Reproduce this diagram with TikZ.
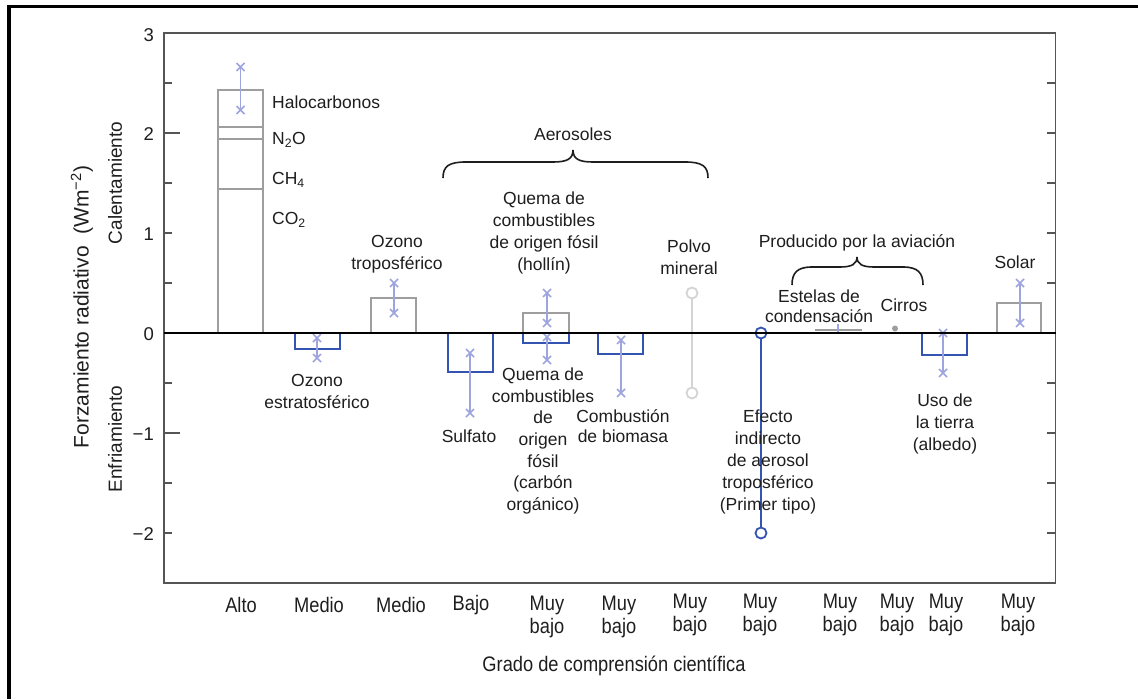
\documentclass[tikz,border=0pt]{standalone}
\usepackage{fontspec}
\setmainfont{Liberation Sans}
\newfontfamily\narrowfont[FakeStretch=0.87]{Liberation Sans}
\definecolor{bargray}{RGB}{158,158,158}
\definecolor{barblue}{RGB}{52,84,178}
\definecolor{errblue}{RGB}{158,164,222}
\definecolor{dustgray}{RGB}{212,212,212}
\definecolor{framegray}{RGB}{85,85,85}
\definecolor{txt}{RGB}{30,30,30}
\newcommand\errmark[3]{%
  \draw[err] (#1,#2) -- (#1,#3);
  \draw[err] (#1,#2) +(-4pt,-4pt) -- +(4pt,4pt) +(-4pt,4pt) -- +(4pt,-4pt);
  \draw[err] (#1,#3) +(-4pt,-4pt) -- +(4pt,4pt) +(-4pt,4pt) -- +(4pt,-4pt);}
\begin{document}
\begin{tikzpicture}[x=1pt,y=-1pt,
  frame/.style={draw=framegray,line width=1.5pt},
  graybar/.style={draw=bargray,line width=2pt},
  bluebar/.style={draw=barblue,line width=2.4pt},
  err/.style={draw=errblue,line width=1.6pt},
  lab/.style={text=txt,font=\fontsize{17.5}{22}\selectfont,align=center,inner sep=0pt},
  ticklab/.style={text=txt,font=\fontsize{18.5}{22}\selectfont,anchor=east,inner sep=0pt},
  axlab/.style={text=txt,font=\fontsize{19}{22}\selectfont,inner sep=0pt,rotate=90},
  botlab/.style={text=txt,font=\narrowfont\fontsize{21}{23}\selectfont,align=center,inner sep=0pt},
  endcirc/.style={circle,inner sep=0pt,minimum size=11pt,line width=1.8pt}]
\useasboundingbox (0,0) rectangle (1138,699);
\fill[white] (0,0) rectangle (1138,699);
% outer frame
\draw[line width=3pt] (7,6.3) -- (1138,6.3);
\draw[line width=3.5pt] (8.8,4.8) -- (8.8,699);
% plot frame
\draw[frame] (164,33) rectangle (1055.7,583);
\foreach \v in {2.5,1.5,1,0.5,-0.5,-1.5,-2} \draw[frame] (164,{333-100*\v}) -- ++(8,0);
\foreach \v in {2,-1} \draw[frame] (164,{333-100*\v}) -- ++(16,0);
\foreach \v in {2.5,2,1.5,1,0.5,-0.5,-1,-1.5,-2} \draw[frame] (1055.7,{333-100*\v}) -- ++(-9,0);
% tick labels
\node[ticklab] (t3) at (154,35) {3};
\node[ticklab] (t2) at (154,134) {2};
\node[ticklab] (t1) at (154,234) {1};
\node[ticklab] (t0) at (154,334) {0};
\node[ticklab] (tm1) at (154,434) {−1};
\node[ticklab] (tm2) at (154,534) {−2};
% axis titles
\node[axlab,font=\fontsize{21}{24}\selectfont] (ytitle) at (82,307) {Forzamiento radiativo\ \ (Wm\textsuperscript{−2})};
\node[axlab] (warm) at (115,183) {Calentamiento};
\node[axlab] (cool) at (115,439) {Enfriamiento};
% data
\begin{scope}[yshift=-333pt,y=100pt]
  % 1 greenhouse gases
  \draw[graybar] (218,0) rectangle (263,2.43);
  \draw[graybar] (218,2.06) -- (263,2.06);
  \draw[graybar] (218,1.94) -- (263,1.94);
  \draw[graybar] (218,1.44) -- (263,1.44);
  \errmark{240.5}{2.23}{2.66}
  % 2 strat ozone
  \draw[bluebar] (295,0) rectangle (340,-0.16);
  \errmark{317}{-0.05}{-0.25}
  % 3 trop ozone
  \draw[graybar] (371,0) rectangle (416,0.35);
  \errmark{394}{0.2}{0.5}
  % 4 sulfate
  \draw[bluebar] (448,0) rectangle (493,-0.39);
  \errmark{470}{-0.2}{-0.8}
  % 5 fossil fuel
  \draw[graybar] (523,0) rectangle (569,0.2);
  \draw[bluebar] (523,0) rectangle (569,-0.1);
  \errmark{547}{0.1}{0.4}
  \errmark{547}{-0.04}{-0.27}
  % 6 biomass
  \draw[bluebar] (598,0) rectangle (643,-0.21);
  \errmark{621}{-0.07}{-0.6}
  % 7 dust
  \node[endcirc,draw=dustgray] (d1) at (692,0.4) {};
  \node[endcirc,draw=dustgray] (d2) at (692,-0.6) {};
  \draw[draw=dustgray,line width=1.8pt] (d1) -- (d2);
  % 8 indirect aerosol
  \node[endcirc,draw=barblue] (i1) at (761,0) {};
  \node[endcirc,draw=barblue] (i2) at (761,-2) {};
  \draw[draw=barblue,line width=2pt] (i1) -- (i2);
  % 9 contrails
  \draw[graybar,line width=2.5pt] (815,0.03) -- (862,0.03);
  \draw[err] (838,0) -- (838,0.09);
  % 10 cirrus
  \fill[bargray] (895,0.045) circle (3pt);
  % 11 land use
  \draw[bluebar] (922,0) rectangle (967,-0.22);
  \errmark{943}{0}{-0.4}
  % 12 solar
  \draw[graybar] (997,0) rectangle (1041,0.3);
  \errmark{1020}{0.1}{0.5}
\end{scope}
% zero line
\draw[line width=2.5pt] (164,333) -- (1055.7,333);
% braces
\draw[line width=1.6pt,txt] (443,178) .. controls (443,166) and (449,162) .. (466,162) -- (553,162)
  .. controls (567,162) and (573,159) .. (573,150) .. controls (573,159) and (579,162) .. (593,162)
  -- (685,162) .. controls (702,162) and (708,166) .. (708,178);
\draw[line width=1.6pt,txt] (792,285) .. controls (792,273) and (797,267) .. (812,267) -- (840,267)
  .. controls (852,267) and (857,264) .. (857,257) .. controls (857,264) and (862,267) .. (874,267)
  -- (903,267) .. controls (918,267) and (923,273) .. (923,285);
% labels
\node[lab,anchor=west] (halo) at (272,102) {Halocarbonos};
\node[lab,anchor=west] (n2o) at (272,140) {N\textsubscript{2}O};
\node[lab,anchor=west] (ch4) at (272,180) {CH\textsubscript{4}};
\node[lab,anchor=west] (co2) at (272,220) {CO\textsubscript{2}};
\node[lab] (otrop) at (397,254) {Ozono\\troposférico};
\node[lab] (ostrat) at (317,391) {Ozono\\estratosférico};
\node[lab] (aer) at (573,134) {Aerosoles};
\node[lab] (soot) at (544,233) {Quema de\\combustibles\\de origen fósil\\(hollín)};
\node[lab] (dust) at (689,257) {Polvo\\mineral};
\node[lab] (avia) at (857,243) {Producido por la aviación};
\node[lab,font=\fontsize{17.5}{19.5}\selectfont] (contr) at (819,306) {Estelas de\\condensación};
\node[lab] (cirr) at (904,305) {Cirros};
\node[lab] (solar) at (1015,262) {Solar};
\node[lab] (sulf) at (469,436) {Sulfato};
\node[lab,font=\fontsize{17.5}{21.6}\selectfont] (oc) at (543,441) {Quema de\\combustibles\\de\\origen\\fósil\\(carbón\\orgánico)};
\node[lab,font=\fontsize{17.5}{20.5}\selectfont] (biom) at (623,426) {Combustión\\de biomasa};
\node[lab,font=\fontsize{17.5}{21.8}\selectfont] (indir) at (768,462) {Efecto\\indirecto\\de aerosol\\troposférico\\(Primer tipo)};
\node[lab] (land) at (945,424) {Uso de\\la tierra\\(albedo)};
% bottom labels
\node[botlab] (b1) at (241,605) {Alto};
\node[botlab] (b2) at (319,605) {Medio};
\node[botlab] (b3) at (401,605) {Medio};
\node[botlab] (b4) at (471,605) {Bajo};
\node[botlab] (b5) at (547,617) {Muy\\bajo};
\node[botlab] (b6) at (619,617) {Muy\\bajo};
\node[botlab] (b7) at (690,615) {Muy\\bajo};
\node[botlab] (b8) at (760,615) {Muy\\bajo};
\node[botlab] (b9) at (840,615) {Muy\\bajo};
\node[botlab] (b10) at (897,615) {Muy\\bajo};
\node[botlab] (b11) at (946,615) {Muy\\bajo};
\node[botlab] (b12) at (1018,615) {Muy\\bajo};
\node[botlab] (xtitle) at (614,666) {Grado de comprensión científica};
\end{tikzpicture}
\end{document}
